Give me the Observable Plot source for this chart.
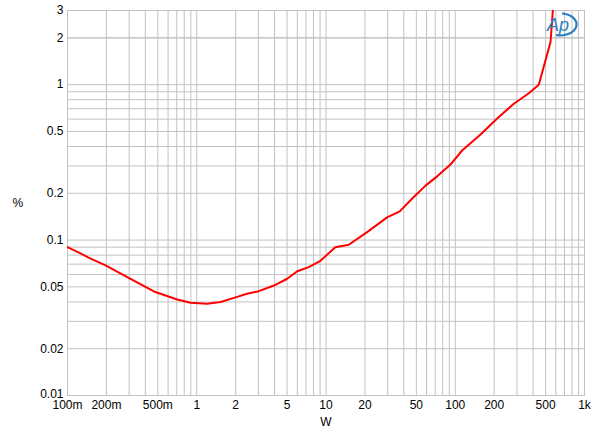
<!DOCTYPE html>
<html>
<head>
<meta charset="utf-8">
<script src="https://cdn.jsdelivr.net/npm/d3@7"></script>
<script src="https://cdn.jsdelivr.net/npm/@observablehq/plot@0.6"></script>
<style>
  html, body { margin: 0; padding: 0; background: #fff; }
  #wrap { position: relative; width: 600px; height: 438px; font-family: "Liberation Sans", Arial, sans-serif; }
  #logo { position: absolute; left: 546px; top: 11px; }
</style>
</head>
<body>
<div id="wrap"></div>
<script>
// Output power (W) and THD+N (%)
const watts = [0.1, 0.126, 0.151, 0.197, 0.29, 0.466, 0.706, 0.895, 1.205, 1.53, 1.94, 2.45, 3.02, 3.95, 5.01, 5.99, 7.36, 9.06, 11.8, 15.0, 20.8, 29.7, 37.2, 46.5, 58.9, 72.5, 91.9, 113, 157, 211, 284, 371, 443, 546, 569, 590];
const thd   = [0.090, 0.082, 0.076, 0.0687, 0.0577, 0.0467, 0.0415, 0.0395, 0.0389, 0.0400, 0.0425, 0.0451, 0.0469, 0.051, 0.0564, 0.063, 0.067, 0.0735, 0.090, 0.0933, 0.1125, 0.140, 0.153, 0.185, 0.224, 0.257, 0.306, 0.377, 0.478, 0.605, 0.754, 0.881, 1.0, 1.88, 3.0, 4.5];

const xTicks = [0.1, 0.2, 0.5, 1, 2, 5, 10, 20, 50, 100, 200, 500, 1000];
const xTickLabels = ["100m", "200m", "500m", "1", "2", "5", "10", "20", "50", "100", "200", "500", "1k"];
const yTicks = [0.01, 0.02, 0.05, 0.1, 0.2, 0.5, 1, 2, 3];
const yTickLabels = ["0.01", "0.02", "0.05", "0.1", "0.2", "0.5", "1", "2", "3"];

const xDomain = [0.1, 1000];
const yDomain = [0.01, 3];

const data = watts.map((w, i) => ({w, v: thd[i]}));
const yLabelRows = yTicks.map((v, i) => ({v, label: yTickLabels[i]}));

// grid positions: 1..9 multiples per decade
const xGrid = [];
for (let e = -1; e <= 2; e++) for (let m = 1; m <= 9; m++) xGrid.push(m * Math.pow(10, e));
xGrid.push(1000);
const yGrid = [];
for (let e = -2; e <= 0; e++) for (let m = 1; m <= 9; m++) yGrid.push(m * Math.pow(10, e));
yGrid.push(2, 3);

const gridColor = "#c2c2c2";

const chart = Plot.plot({
  width: 600,
  height: 438,
  marginLeft: 67,
  marginRight: 16,
  marginTop: 10,
  marginBottom: 43,
  style: { fontFamily: "'Liberation Sans', Arial, sans-serif", fontSize: "12px", color: "#000", background: "#fff" },
  x: { type: "log", domain: xDomain, label: null, axis: null },
  y: { type: "log", domain: yDomain, label: null, axis: null },
  marks: [
    Plot.ruleX(xGrid, { x: d => d, stroke: gridColor, strokeWidth: 1 }),
    Plot.ruleY(yGrid, { y: d => d, stroke: gridColor, strokeWidth: 1 }),
    Plot.frame({ stroke: gridColor }),
    Plot.text(xTicks, { x: d => d, text: (d, i) => xTickLabels[i], frameAnchor: "bottom", dy: 13.5, fontSize: 12, fill: "#000" }),
    Plot.text(yLabelRows.slice(1), { y: "v", text: "label", frameAnchor: "left", dx: -4, textAnchor: "end", fontSize: 12, fill: "#000" }),
    Plot.text(yLabelRows.slice(0, 1), { y: "v", text: "label", frameAnchor: "left", dx: -4, dy: -1.5, textAnchor: "end", fontSize: 12, fill: "#000" }),
    Plot.line(data, { x: "w", y: "v", stroke: "#ff0000", strokeWidth: 2, clip: true }),
    Plot.text(["W"], { frameAnchor: "bottom", dy: 30, fontSize: 12, fill: "#000" }),
    Plot.text(["%"], { frameAnchor: "left", dx: -55, fontSize: 12, fill: "#000" })
  ]
});

const wrap = document.getElementById("wrap");
wrap.appendChild(chart);

// Audio Precision logo overlay
const ns = "http://www.w3.org/2000/svg";
const logo = document.createElementNS(ns, "svg");
logo.setAttribute("id", "logo");
logo.setAttribute("width", "38");
logo.setAttribute("height", "28");
logo.innerHTML = `
  <path d="M 16 2.5 A 16 11 0 1 1 10 24" fill="none" stroke="#2a7fc4" stroke-width="2.2"/>
  <text x="1" y="20" font-family="'Liberation Sans', Arial, sans-serif" font-size="18" font-style="italic" fill="#2a7fc4">Ap</text>
`;
wrap.appendChild(logo);
</script>
</body>
</html>
